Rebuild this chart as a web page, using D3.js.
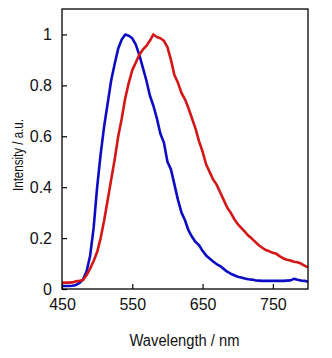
<!DOCTYPE html>
<html>
<head>
<meta charset="utf-8">
<script src="https://cdn.jsdelivr.net/npm/d3@7"></script>
<style>
  html, body { margin: 0; padding: 0; background: #fff; }
  svg { display: block; }
  text { font-family: Arial, "Liberation Sans", sans-serif; fill: #111; }
</style>
</head>
<body>
<svg id="chart" width="332" height="358"></svg>
<script>
// Emission spectra (normalised intensity vs wavelength in nm)
const wavelengths = [450,455,460,465,470,475,480,485,490,495,500,505,510,515,520,525,530,535,540,545,550,555,560,565,570,575,580,585,590,595,600,605,610,615,620,625,630,635,640,645,650,655,660,665,670,675,680,685,690,695,700,705,710,715,720,725,730,735,740,745,750,755,760,765,770,775,780,785,790,795,800];

const blueSeries = [0.012,0.012,0.012,0.013,0.016,0.024,0.038,0.07,0.13,0.24,0.40,0.53,0.64,0.73,0.82,0.885,0.945,0.98,1.0,0.995,0.985,0.96,0.92,0.87,0.82,0.76,0.72,0.67,0.61,0.575,0.50,0.47,0.41,0.35,0.30,0.27,0.23,0.205,0.185,0.172,0.15,0.132,0.12,0.108,0.098,0.09,0.079,0.068,0.06,0.054,0.048,0.045,0.041,0.038,0.037,0.034,0.033,0.032,0.032,0.032,0.032,0.032,0.032,0.032,0.033,0.034,0.04,0.036,0.033,0.032,0.028];

const redSeries = [0.025,0.025,0.025,0.026,0.03,0.032,0.035,0.055,0.08,0.11,0.145,0.2,0.27,0.35,0.43,0.51,0.6,0.67,0.75,0.81,0.86,0.89,0.92,0.94,0.955,0.975,1.0,0.99,0.985,0.975,0.95,0.9,0.84,0.81,0.77,0.745,0.71,0.67,0.63,0.58,0.54,0.49,0.46,0.43,0.41,0.38,0.35,0.32,0.30,0.275,0.255,0.24,0.225,0.21,0.198,0.185,0.172,0.162,0.153,0.148,0.142,0.138,0.128,0.12,0.115,0.112,0.107,0.105,0.1,0.092,0.085];

const xTicks = [450, 550, 650, 750];
const yTicks = [0, 0.2, 0.4, 0.6, 0.8, 1];
const xTitle = "Wavelength / nm";
const yTitle = "Intensity / a.u.";

const margin = { left: 62, top: 9, right: 24, bottom: 69 };
const W = 332, H = 358;
const svg = d3.select("#chart");

const x = d3.scaleLinear().domain([450, 800]).range([margin.left, W - margin.right]);
const y = d3.scaleLinear().domain([0, 1.1]).range([H - margin.bottom, margin.top]);

// spectra
const line = d3.line()
  .x(d => x(d[0]))
  .y(d => y(d[1]));

const series = [
  { values: blueSeries, color: "#0c0cc4" },
  { values: redSeries, color: "#d41616" }
];

svg.append("g")
  .selectAll("path")
  .data(series)
  .join("path")
  .attr("fill", "none")
  .attr("stroke", s => s.color)
  .attr("stroke-width", 2.6)
  .attr("stroke-linejoin", "round")
  .attr("d", s => line(wavelengths.map((w, i) => [w, s.values[i]])));

// frame
svg.append("rect")
  .attr("x", x(450)).attr("y", y(1.1))
  .attr("width", x(800) - x(450)).attr("height", y(0) - y(1.1))
  .attr("fill", "none").attr("stroke", "#000").attr("stroke-width", 1.3);

// axes with inward ticks
const xAxis = d3.axisBottom(x).tickValues(xTicks).tickSize(-5).tickPadding(12)
  .tickFormat(d3.format("d"));
const gx = svg.append("g").attr("transform", `translate(0,${y(0)})`).call(xAxis);
gx.select(".domain").remove();
gx.selectAll("line").attr("stroke", "#000").attr("stroke-width", 1.2);
gx.selectAll("text").attr("font-size", 16).attr("dy", "0.55em")
  .attr("font-family", "Arial, 'Liberation Sans', sans-serif").attr("fill", "#111");

const yAxis = d3.axisLeft(y).tickValues(yTicks).tickSize(-5).tickPadding(10)
  .tickFormat(d => d3.format("")(d));
const gy = svg.append("g").attr("transform", `translate(${x(450)},0)`).call(yAxis);
gy.select(".domain").remove();
gy.selectAll("line").attr("stroke", "#000").attr("stroke-width", 1.2);
gy.selectAll("text").attr("font-size", 16)
  .attr("font-family", "Arial, 'Liberation Sans', sans-serif").attr("fill", "#111");

// axis titles
svg.append("text")
  .attr("x", 184.5).attr("y", 346)
  .attr("text-anchor", "middle")
  .attr("font-size", 16)
  .attr("textLength", 110).attr("lengthAdjust", "spacingAndGlyphs")
  .text(xTitle);

svg.append("text")
  .attr("transform", "translate(23,155) rotate(-90)")
  .attr("text-anchor", "middle")
  .attr("font-size", 15.5)
  .attr("textLength", 72).attr("lengthAdjust", "spacingAndGlyphs")
  .text(yTitle);
</script>
</body>
</html>
